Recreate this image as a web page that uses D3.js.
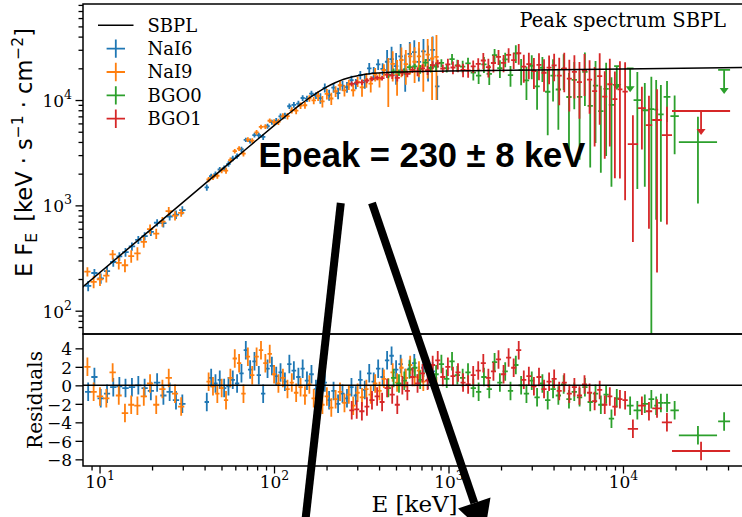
<!DOCTYPE html>
<html>
<head>
<meta charset="utf-8">
<script src="https://cdn.jsdelivr.net/npm/d3@7/dist/d3.min.js"></script>
<style>
html,body{margin:0;padding:0;background:#fff;}
svg{display:block;}
</style>
</head>
<body>
<svg id="chart" width="742" height="517"></svg>
<script>
// ---------------- Spectrum data (E in keV, E·F_E in keV s^-1 cm^-2) ----------------

// Smoothly broken power law fit, sampled along the energy range
const sbplE = [7.94, 19.95, 39.8, 63.1, 79.4, 100, 112.2, 125.9, 141.3, 158.5, 177.8, 199.5, 223.9, 251.2, 281.8, 316.2, 354.8, 398, 501, 631, 1000, 3162, 10000, 50120];
const sbplF = [165.7, 601.7, 1583, 3015, 4155, 5710, 6675, 7784, 9030, 10396, 11840, 13280, 14610, 15750, 16650, 17300, 17770, 18060, 18420, 18610, 18830, 19270, 19720, 20360];

// NaI6 (two energy windows, the 30-40 keV range is excluded)
const nai6LowEdges = [8.26, 8.97, 9.74, 10.6, 11.5, 12.5, 13.5, 14.7, 16.0, 17.4, 18.9, 20.5, 22.3, 24.2, 26.3, 28.6, 31.1];
const nai6HighEdges = [40.0, 42.4, 44.9, 47.5, 50.3, 53.3, 56.4, 59.7, 63.2, 67.0, 70.9, 75.1, 79.5, 84.2, 89.2, 94.5, 100, 106, 112, 119, 126, 134, 142, 150, 159, 169, 179, 190, 201, 213, 226, 240, 254, 270, 286, 303, 322, 341, 362, 384, 407, 432, 458, 486, 516, 548, 582, 618, 656, 697, 741, 787, 836, 888];
const nai6Flux = [172, 228, 203, 238, 290, 328, 360, 408, 470, 510, 561, 684, 677, 784, 818, 900,
  1480, 1890, 1980, 2190, 2250, 2470, 2790, 2940, 3410, 4190, 4080, 4640, 4630, 4460, 5640, 6170,
  6330, 6990, 7110, 8730, 9000, 9260, 10460, 10300, 11510, 11030,
  10430, 13060, 11200, 13120, 11620, 13680, 13260, 15460, 14270, 17270,
  15280, 20020, 18000, 21820, 19770,
  23100, 24500, 21000, 26000, 19500, 27400, 28500, 23000, 29000, 24000, 30000, 13500];
const nai6Err = [19, 21, 23, 25, 28, 31, 34, 37, 41, 45, 50, 55, 61, 67, 75, 80,
  100, 108, 117, 127, 137, 149, 162, 174, 190, 205, 222, 241, 261, 283, 306, 329,
  414, 446, 484, 526, 566, 610, 650, 697, 743, 795,
  1200, 1270, 1330, 1400, 1450, 1500, 1540, 1580, 1600, 1630,
  2480, 2510, 2550, 2580, 2610,
  6700, 7500, 7000, 8000, 7500, 8100, 8500, 8000, 9000, 9000, 10000, 3500];
const nai6Resid = [-0.7, 0.9, -1.4, -0.9, -0.2, -0.1, -0.3, -0.2, 0.0, -0.3, -0.6, 0.3, -1.1, -0.7, -1.6, -2.0,
  -1.8, 0.8, 0.2, 0.6, -0.3, -0.1, 0.6, 0.2, 1.3, 3.8, 1.7, 2.6, 1.1, -0.9, 1.8, 2.1,
  1.0, 1.4, 0.4, 2.3, 1.6, 0.9, 1.8, 0.5, 1.2, -0.4,
  -1.3, 0.3, -1.6, -0.6, -2.0, -0.9, -1.4, -0.2, -1.1, 0.6,
  -0.5, 1.3, 0.4, 1.8, 0.9,
  2.7, 3.2, 1.7, 2.3, 0.8, 1.8, 2.4, 1.1, 1.9, 0.6, 1.5, -0.8];

// NaI9
const nai9LowEdges = [8.18, 8.88, 9.64, 10.5, 11.4, 12.4, 13.4, 14.6, 15.8, 17.2, 18.7, 20.3, 22.0, 23.9, 26.0, 28.2, 30.6];
const nai9HighEdges = [41.0, 43.4, 46.0, 48.7, 51.6, 54.6, 57.9, 61.3, 64.9, 68.8, 72.9, 77.2, 81.8, 86.7, 91.8, 97.3, 103, 109, 116, 123, 130, 138, 146, 155, 164, 174, 184, 195, 207, 219, 232, 246, 261, 276, 293, 310, 329, 348, 369, 391, 414, 439, 465, 493, 522, 553, 586, 621, 658, 697, 738, 782, 829, 878];
const nai9Flux = [235, 188, 199, 215, 342, 284, 270, 330, 350, 450, 595, 540, 700, 880, 800, 850,
  1760, 1850, 1910, 2150, 2140, 2690, 3270, 3460, 3100, 4210, 4110, 4940, 5550, 5600, 6360,
  6170, 6220, 7010, 7040, 7980, 7930, 8870, 8920, 10370, 9910,
  10970, 9720, 11440, 10340, 12120, 13820, 12340, 14040, 12390, 14920,
  13180, 15600, 14300, 17570, 15710, 19290,
  16800, 22000, 17500, 24000, 21900, 26000, 23100, 26000, 21000, 27000, 24800, 25700];
const nai9Err = [24, 25, 27, 30, 35, 38, 38, 45, 50, 55, 62, 60, 75, 85, 80, 70,
  103, 112, 121, 131, 142, 154, 167, 181, 196, 213, 231, 250, 271, 294, 317,
  398, 430, 465, 507, 547, 588, 630, 676, 721, 769,
  1170, 1230, 1300, 1360, 1430, 1490, 1520, 1560, 1590, 1620,
  2460, 2490, 2520, 2560, 2590, 2620,
  8200, 7000, 6500, 7500, 7900, 8500, 8600, 9500, 9000, 11000, 14800, 15700];
const nai9Resid = [2.0, -0.7, -1.2, -1.4, 1.4, -1.1, -3.0, -2.1, -2.2, -1.2, 0.2, -2.1, -0.4, 0.8, -0.9, -2.3,
  0.4, -0.1, -0.9, -0.3, -1.6, 0.8, 2.9, 2.4, -0.9, 3.1, 1.1, 3.1, 3.8, 2.4, 3.4,
  1.2, 0.2, 0.8, -0.4, 0.3, -0.8, -0.2, -1.1, 0.1, -1.4,
  -0.6, -2.1, -1.2, -2.4, -1.5, -0.7, -1.9, -1.0, -2.2, -0.8,
  -1.3, -0.4, -1.0, 0.2, -0.6, 0.7,
  -0.2, 1.4, 0.3, 1.9, 0.8, 2.2, 0.9, 1.6, 0.4, 2.0, 0.6, -0.1];

// BGO0 (dense binning, then wide high-energy bins)
const bgo0Edges = [436, 468, 502, 539, 578, 619, 664, 713, 764, 820, 879, 943, 1012, 1085, 1164, 1249, 1340, 1437, 1541, 1653, 1774, 1902, 2041, 2188, 2347, 2518, 2701, 2897, 3107, 3334, 3575, 3837, 4115, 4414, 4734, 5078, 5445, 5840, 6266, 6720, 7209, 7730, 8292, 8895];
const bgo0TailEdges = [11500, 12700, 14000, 15100, 15900, 17100, 18700, 20900, 34600];
const bgo0Flux = [17310, 18720, 18180, 18690, 20500, 20850,
  19630, 22680, 20140, 20760, 22500, 20110,
  24480, 21310, 20780, 22330, 18190, 17070,
  21850, 17700, 26670, 20030, 24270, 17220,
  27780, 19190, 15370, 21160, 13490, 20250,
  11980, 17030, 12590, 19790, 10680, 15560,
  10710, 18530, 8790, 13690, 7840, 12750, 9000,
  9960, 8000, 8200, 8100, 7300, 10700, 7050, 3990];
const bgo0Err = [1240, 1250, 1260, 1270, 1280, 1290,
  1850, 1860, 1870, 1870, 1880, 1880,
  2820, 2830, 2830, 2840, 2840, 2850,
  3800, 3810, 3810, 3820, 3820, 3830,
  5360, 5370, 5380, 5390, 5400, 5400,
  7340, 7350, 7360, 7370, 7380, 7390,
  8000, 9760, 6500, 9780, 5800, 9810, 7500,
  8530, 6500, 8400, 7370, 6600, 4500, 4000, 2950];
const bgo0Resid = [-0.3, 0.8, 0.2, 0.5, 1.7, 1.9, 0.6, 2.4, 0.9, 1.2, 2.3, 0.7, 2.6, 1.1, 0.8, 1.4, -0.3, -0.7, 0.9, -0.4, 2.5, 0.3, 1.5, -0.6, 2.2, 0.0, -0.9, 0.5, -1.3, 0.2, -1.6, -0.4, -1.1, 0.1, -1.5, -0.7, -1.3, -0.2, -1.8, -0.9, -2.1, -1.0, -3.6,
  -2.7, -2.0, -1.5, -2.2, -1.9, -1.9, -2.7, -5.4];
// BGO0 upper limits
const bgo0LimLo = [8895, 10500, 35100];
const bgo0LimHi = [9540, 11500, 41100];
const bgo0LimVal = [21000, 20000, 19300];
const bgo0LimResid = [-1.4, -2.2, -3.9];

// BGO1
const bgo1Edges = [270, 288, 308, 330, 352, 377, 403, 430, 460, 492, 526, 562, 601, 643, 687, 734, 785, 839, 897, 959, 1026, 1096, 1172, 1253, 1340, 1432, 1531, 1637, 1750, 1871, 2000, 2138, 2286, 2443, 2612, 2793, 2985, 3192, 3412, 3648, 3899, 4169, 4457, 4764, 5093, 5445, 5821, 6223, 6653, 7112, 7603, 8128, 8690, 9290, 9931, 10650, 12200, 13500, 14700, 16700, 19100];
const bgo1Flux = [14230, 14660, 14730, 15300, 15890, 16280, 16160,
  17440, 17110, 16230, 18200, 17770, 19330,
  18670, 20020, 19180, 21460, 22260, 19920,
  21850, 20370, 21150, 19280, 19110, 20850, 22010,
  23740, 20540, 22470, 25740, 22540, 26780, 23940,
  27810, 20740, 21920, 18870, 21590, 18150, 20310, 21300,
  17060, 20000, 15950, 18500, 14820, 19130, 15630,
  12130, 16840, 10770, 14120, 10210, 12600,
  12000, 3820, 8390, 5790, 6460, 4650];
const bgo1Err = [790, 805, 820, 830, 845, 857, 870,
  1230, 1250, 1260, 1270, 1280, 1290,
  1850, 1850, 1860, 1870, 1870, 1880,
  2830, 2830, 2830, 2840, 2840, 2840, 2850,
  4180, 4180, 4190, 4190, 4200, 4210, 4210,
  6140, 6140, 6150, 6160, 6170, 6180, 6190, 6200,
  8140, 8150, 8170, 8180, 8190, 8200, 8210,
  8500, 11000, 8000, 10500, 8400, 10800,
  10880, 3370, 5000, 5190, 6230, 3990];
const bgo1Resid = [-2.7, -2.6, -2.8, -2.3, -1.6, -1.2, -1.8, -0.3, -1.0, -2.1, 0.0, -0.6, 0.9, 0.2, 1.3, 0.5, 2.2, 2.7, 0.9, 2.0, 1.0, 1.4, 0.3, 0.1, 1.1, 1.6, 2.4, 0.8, 1.5, 2.8, 1.2, 3.0, 1.9, 3.8, 0.6, 1.0, -0.1, 0.9, -0.4, 0.4, 0.7, -0.6, 0.3, -0.9, -0.2, -1.1, 0.1, -0.8, -1.7, -0.5, -2.1, -1.2, -2.3, -1.5,
  -1.6, -4.7, -2.2, -2.8, -2.5, -4.0];
// BGO1 upper limit
const bgo1LimLo = [19100];
const bgo1LimHi = [41100];
const bgo1LimVal = [7870];
const bgo1LimResid = [-7.1];

// Axis limits and tick labels
const xLimits = [8.04, 50700];
const yTopLimits = [60.1, 81600];
const yResLimits = [-8.72, 5.55];
const xTicks = [10, 100, 1000, 10000];
const yTopTicks = [100, 1000, 10000];
const yResTicks = [-8, -6, -4, -2, 0, 2, 4];

const legendNames = ["SBPL", "NaI6", "NaI9", "BGO0", "BGO1"];
const titleText = "Peak spectrum SBPL";
const peakText = "Epeak = 230 \u00b1 8 keV";

// ---------------- Layout ----------------
const W = 742, H = 517;
const plot = {left: 83, right: 746, top: 4, mid: 334, bottom: 466};
const serif = "'DejaVu Serif', serif";
const sans = "'DejaVu Sans', sans-serif";

const x = d3.scaleLog().domain(xLimits).range([plot.left, plot.right]);
const yTop = d3.scaleLog().domain(yTopLimits).range([plot.mid, plot.top]);
const yRes = d3.scaleLinear().domain(yResLimits).range([plot.bottom, plot.mid]);

const svg = d3.select("#chart");
svg.append("rect").attr("width", W).attr("height", H).attr("fill", "#fff");

const defs = svg.append("defs");
defs.append("clipPath").attr("id", "clipTop").append("rect")
  .attr("x", plot.left).attr("y", plot.top).attr("width", plot.right - plot.left).attr("height", plot.mid - plot.top);
defs.append("clipPath").attr("id", "clipRes").append("rect")
  .attr("x", plot.left).attr("y", plot.mid).attr("width", plot.right - plot.left).attr("height", plot.bottom - plot.mid);

const series = [
  {color: "#1f77b4", bins: d3.pairs(nai6LowEdges).concat(d3.pairs(nai6HighEdges)), flux: nai6Flux, err: nai6Err, resid: nai6Resid, lims: []},
  {color: "#ff7f0e", bins: d3.pairs(nai9LowEdges).concat(d3.pairs(nai9HighEdges)), flux: nai9Flux, err: nai9Err, resid: nai9Resid, lims: []},
  {color: "#2ca02c", bins: d3.pairs(bgo0Edges).concat(d3.pairs(bgo0TailEdges)), flux: bgo0Flux, err: bgo0Err, resid: bgo0Resid,
   lims: bgo0LimLo.map((lo, i) => ({lo, hi: bgo0LimHi[i], val: bgo0LimVal[i], resid: bgo0LimResid[i]}))},
  {color: "#d62728", bins: d3.pairs(bgo1Edges), flux: bgo1Flux, err: bgo1Err, resid: bgo1Resid,
   lims: bgo1LimLo.map((lo, i) => ({lo, hi: bgo1LimHi[i], val: bgo1LimVal[i], resid: bgo1LimResid[i]}))}
];

const gTop = svg.append("g").attr("clip-path", "url(#clipTop)");
const gRes = svg.append("g").attr("clip-path", "url(#clipRes)");
const barWidth = 1.8;
const arrowLen = 24;

function crossPath(lo, hi, v, e, ys) {
  const c = Math.sqrt(lo * hi);
  const low = ys === yTop ? Math.max(v - e, 1) : v - e;
  return `M${x(lo)},${ys(v)}H${x(hi)}M${x(c)},${ys(v + e)}V${ys(low)}`;
}

series.forEach(s => {
  const gt = gTop.append("g").attr("stroke", s.color).attr("stroke-width", barWidth).attr("fill", "none");
  const gr = gRes.append("g").attr("stroke", s.color).attr("stroke-width", barWidth).attr("fill", "none");
  s.bins.forEach(([lo, hi], i) => {
    gt.append("path").attr("d", crossPath(lo, hi, s.flux[i], s.err[i], yTop));
    gr.append("path").attr("d", crossPath(lo, hi, s.resid[i], 1, yRes));
  });
  s.lims.forEach(u => {
    const c = Math.sqrt(u.lo * u.hi);
    const yv = yTop(u.val), xc = x(c);
    gt.append("path").attr("d", `M${x(u.lo)},${yv}H${x(u.hi)}M${xc},${yv}V${yv + arrowLen - 4}`);
    gTop.append("path")
      .attr("d", `M${xc - 4.5},${yv + arrowLen - 6}L${xc + 4.5},${yv + arrowLen - 6}L${xc},${yv + arrowLen}Z`)
      .attr("fill", s.color);
    gr.append("path").attr("d", crossPath(u.lo, u.hi, u.resid, 1, yRes));
  });
});

// SBPL model curve
gTop.append("path")
  .datum(d3.zip(sbplE, sbplF))
  .attr("d", d3.line().x(d => x(d[0])).y(d => yTop(d[1])).curve(d3.curveMonotoneX))
  .attr("fill", "none").attr("stroke", "#000").attr("stroke-width", 1.5);

// zero line of the residuals
gRes.append("line")
  .attr("x1", x(xLimits[0])).attr("x2", x(xLimits[1]))
  .attr("y1", yRes(0)).attr("y2", yRes(0))
  .attr("stroke", "#000").attr("stroke-width", 1.5);

// ---------------- Axes ----------------
function cleanAxis(g) {
  g.select(".domain").remove();
  g.selectAll(".tick line").attr("stroke", "#000").attr("stroke-width", 1.3);
  g.attr("font-family", serif).attr("font-size", 17).attr("fill", "#000");
  g.selectAll(".tick text").attr("fill", "#000");
}
function powerLabel(sel, baseline) {
  sel.each(function (d) {
    const t = d3.select(this);
    t.text(null).attr("dy", null).attr("y", baseline);
    t.append("tspan").text("10");
    t.append("tspan").attr("font-size", 12.5).attr("dy", -8).text(Math.round(Math.log10(d)));
  });
}

const minorX = x.ticks().filter(v => !xTicks.includes(v) && v >= xLimits[0] && v <= xLimits[1]);
const minorYTop = yTop.ticks().filter(v => !yTopTicks.includes(v) && v >= yTopLimits[0] && v <= yTopLimits[1]);

// top panel y axis
svg.append("g").attr("transform", `translate(${plot.left},0)`)
  .call(d3.axisLeft(yTop).tickValues(minorYTop).tickSize(4.5).tickFormat(""))
  .call(cleanAxis);
const gyTop = svg.append("g").attr("transform", `translate(${plot.left},0)`)
  .call(d3.axisLeft(yTop).tickValues(yTopTicks).tickSize(7.5).tickPadding(3.5).tickFormat(d => d))
  .call(cleanAxis);
gyTop.selectAll(".tick text").call(powerLabel, 6.3);

// residual y axis
svg.append("g").attr("transform", `translate(${plot.left},0)`)
  .call(d3.axisLeft(yRes).tickValues(yResTicks).tickSize(7.5).tickPadding(3.5)
    .tickFormat(d => d < 0 ? "\u2212" + (-d) : String(d)))
  .call(cleanAxis)
  .selectAll(".tick text").attr("dy", null).attr("y", 6.2);

// x axis below the residuals
svg.append("g").attr("transform", `translate(0,${plot.bottom})`)
  .call(d3.axisBottom(x).tickValues(minorX).tickSize(4.5).tickFormat(""))
  .call(cleanAxis);
const gx = svg.append("g").attr("transform", `translate(0,${plot.bottom})`)
  .call(d3.axisBottom(x).tickValues(xTicks).tickSize(7.5).tickFormat(d => d))
  .call(cleanAxis);
gx.selectAll(".tick text").call(powerLabel, 22);

// spines
const spines = svg.append("g").attr("stroke", "#000").attr("stroke-width", 1.5).attr("fill", "none");
spines.append("rect").attr("x", plot.left).attr("y", plot.top).attr("width", plot.right - plot.left).attr("height", plot.mid - plot.top);
spines.append("rect").attr("x", plot.left).attr("y", plot.mid).attr("width", plot.right - plot.left).attr("height", plot.bottom - plot.mid);

// ---------------- Labels ----------------
const yl = svg.append("text")
  .attr("transform", "translate(32,152.5) rotate(-90)")
  .attr("text-anchor", "middle").attr("font-family", sans).attr("font-size", 22.5).attr("fill", "#000");
yl.append("tspan").text("E F");
yl.append("tspan").attr("font-size", 15.5).attr("dy", 4.8).text("E");
yl.append("tspan").attr("dy", -4.8).text("\u2002[keV \u00b7 s");
yl.append("tspan").attr("font-size", 15.5).attr("dy", -9).text("\u22121");
yl.append("tspan").attr("dy", 9).text(" \u00b7 cm");
yl.append("tspan").attr("font-size", 15.5).attr("dy", -9).text("\u22122");
yl.append("tspan").attr("dy", 9).text("]");

svg.append("text")
  .attr("transform", `translate(42,${(plot.mid + plot.bottom) / 2}) rotate(-90)`)
  .attr("text-anchor", "middle").attr("font-family", serif).attr("font-size", 20).attr("fill", "#000")
  .text("Residuals");

svg.append("text")
  .attr("x", (plot.left + plot.right) / 2).attr("y", 512)
  .attr("text-anchor", "middle").attr("font-family", serif).attr("font-size", 23).attr("fill", "#000")
  .text("E [keV]");

svg.append("text")
  .attr("x", 519.5).attr("y", 26.5)
  .attr("font-family", serif).attr("font-size", 19.5).attr("fill", "#000")
  .text(titleText);

// legend
const legendColors = ["#000", "#1f77b4", "#ff7f0e", "#2ca02c", "#d62728"];
const lg = svg.append("g");
legendNames.forEach((name, i) => {
  const cy = 25.3 + i * 23.35;
  if (i === 0) {
    lg.append("line").attr("x1", 98).attr("x2", 133.5).attr("y1", cy).attr("y2", cy)
      .attr("stroke", "#000").attr("stroke-width", 1.5);
  } else {
    lg.append("path").attr("d", `M${106.6},${cy}H${125}M${115.8},${cy - 9.2}V${cy + 9.2}`)
      .attr("stroke", legendColors[i]).attr("stroke-width", barWidth).attr("fill", "none");
  }
  lg.append("text").attr("x", 147.5).attr("y", cy + 6.4)
    .attr("font-family", serif).attr("font-size", 18).attr("fill", "#000").text(name);
});

// annotation: peak energy and the two pointer arrows
svg.append("text")
  .attr("x", 258.5).attr("y", 167)
  .attr("font-family", "'Liberation Sans', Arial, sans-serif").attr("font-weight", "bold")
  .attr("font-size", 34.5).attr("fill", "#000")
  .text(peakText);

const ann = svg.append("g");
ann.append("line").attr("x1", 340.8).attr("y1", 203).attr("x2", 301).attr("y2", 560)
  .attr("stroke", "#000").attr("stroke-width", 8);
ann.append("line").attr("x1", 372).attr("y1", 203).attr("x2", 474.3).attr("y2", 503)
  .attr("stroke", "#000").attr("stroke-width", 8);
ann.append("path").attr("d", "M458,508.5L490.5,497.5L484.6,533.3Z").attr("fill", "#000");
</script>
</body>
</html>
